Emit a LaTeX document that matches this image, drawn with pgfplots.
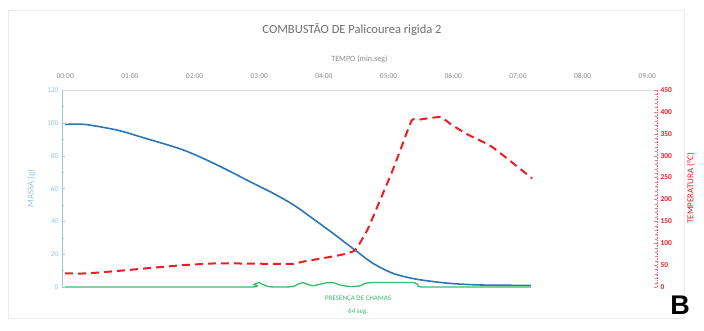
\documentclass[border=0pt]{standalone}
\usepackage{fontspec}
\setmainfont{Carlito}
\newfontfamily\arialfont{Liberation Sans}
\usepackage{pgfplots}
\pgfplotsset{compat=1.18}

\definecolor{massblue}{RGB}{46,117,182}
\definecolor{tempred}{RGB}{238,28,37}
\definecolor{flamegreen}{RGB}{60,185,110}
\definecolor{lightaxis}{RGB}{150,200,222}
\definecolor{gridgray}{RGB}{222,222,222}
\definecolor{titlegray}{RGB}{110,110,110}

\begin{document}
\begin{tikzpicture}[x=1pt,y=1pt]
% page frame
\path[use as bounding box] (0,0) rectangle (704,330);
\draw[gray!15, line width=0.8pt] (8,12) rectangle (684,320);

% mass (left axis) and flame presence
\begin{axis}[
  at={(62pt,43pt)}, anchor=south west,
  scale only axis, width=595pt, height=197pt,
  xmin=-0.05, xmax=9.15, ymin=0, ymax=120,
  axis x line*=top, axis y line*=left,
  x axis line style={gridgray, line width=1pt, -},
  y axis line style={lightaxis, line width=0.6pt, -},
  xtick={0,1,2,3,4,5,6,7,8,9},
  xticklabels={00:00,01:00,02:00,03:00,04:00,05:00,06:00,07:00,08:00,09:00},
  major x tick style={draw=none},
  xticklabel style={font=\fontsize{7.5}{8}\selectfont, text=titlegray!80, yshift=8pt},
  ytick={0,20,40,60,80,100,120},
  minor y tick num=1,
  major tick length=3pt, minor tick length=2pt,
  y tick style={lightaxis},
  yticklabel style={font=\fontsize{7.5}{8}\selectfont, text=lightaxis},
  /pgf/number format/assume math mode=true,
  xlabel={TEMPO (min:seg)},
  xlabel style={font=\fontsize{8}{9}\selectfont, text=titlegray!80, yshift=4pt},
  ylabel={MASSA (g)},
  ylabel style={font=\fontsize{9}{10}\selectfont, text=lightaxis, yshift=5pt},
  clip=false,
]
\addplot[massblue, line width=1.6pt, smooth, tension=0.5] coordinates {
  (0,99) (0.31,99) (0.8,95.6) (1.16,91.5) (1.83,83.4) (2.35,74.3)
  (2.9,63.3) (3.22,57) (3.53,50) (3.8,42.5) (4.14,32.7) (4.48,22.5)
  (4.76,14.4) (5.07,8.3) (5.44,4.7) (5.95,2.2) (6.46,1.2) (7.2,1)
};
\addplot[flamegreen, line width=1.3pt, smooth, tension=0.3] coordinates {
  (0,0) (2.85,0) (2.92,1.5) (2.99,2.7) (3.06,1.5) (3.14,0.2) (3.3,0)
  (3.52,0.2) (3.6,1.8) (3.68,2.6) (3.76,1.4) (3.84,0.8) (3.95,1.8)
  (4.05,2.6) (4.15,2.6) (4.25,1.2) (4.4,0.3) (4.55,0.6) (4.64,2.2)
  (4.75,2.7) (5.38,2.7) (5.46,1) (5.55,0) (7.2,0)
};
\node[font=\fontsize{7}{8}\selectfont, text=flamegreen] at (axis cs:4.53,-7.5) {PRESENÇA DE CHAMAS};
\node[font=\fontsize{7}{8}\selectfont, text=flamegreen] at (axis cs:4.53,-15) {64 seg.};
\end{axis}

% temperature (right axis)
\begin{axis}[
  at={(62pt,43pt)}, anchor=south west,
  scale only axis, width=595pt, height=197pt,
  xmin=-0.05, xmax=9.15, ymin=0, ymax=450,
  axis y line*=right, hide x axis,
  y axis line style={tempred!70, densely dotted, line width=0.6pt, -},
  ytick={0,50,...,450},
  minor y tick num=4,
  major tick length=3pt, minor tick length=2pt,
  y tick style={tempred!60},
  yticklabel style={font=\bfseries\fontsize{7.5}{8}\selectfont, text=tempred},
  /pgf/number format/assume math mode=true,
  ylabel={TEMPERATURA (°C)},
  ylabel style={font=\fontsize{9}{10}\selectfont, text=tempred, yshift=-8pt},
]
\addplot[tempred, line width=2pt, dash pattern=on 8pt off 5pt, smooth, tension=0.3] coordinates {
  (0,31) (0.32,31) (0.8,36.5) (1.28,43) (1.83,50) (2.35,54) (3.12,53)
  (3.53,53) (3.68,58) (4.25,73) (4.48,84) (4.67,130) (4.87,199)
  (5.05,262) (5.2,320) (5.36,381) (5.5,383) (5.8,388) (5.98,370)
  (6.24,347) (6.6,320) (7.22,248)
};
\end{axis}

% title and panel letter
\node[font=\fontsize{12.5}{14}\selectfont, text=titlegray] at (352,300) {COMBUSTÃO DE Palicourea rigida 2};
\node[font=\arialfont\bfseries\fontsize{27}{27}\selectfont] at (680,25) {B};
\end{tikzpicture}
\end{document}
